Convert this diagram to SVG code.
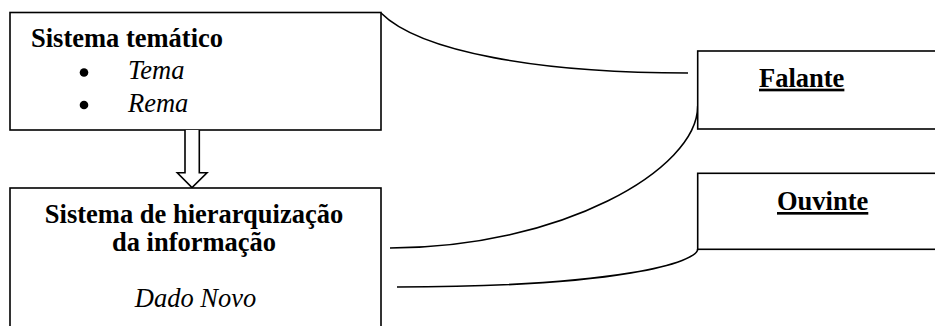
<svg xmlns="http://www.w3.org/2000/svg" width="935" height="326" viewBox="0 0 935 326">
  <style>
    .box { fill: #ffffff; stroke: #000000; stroke-width: 1.6; }
    .link { fill: none; stroke: #000000; stroke-width: 1.6; }
    .t { font-family: "Liberation Serif", "Times New Roman", serif; font-size: 26.5px; fill: #000000; }
    .b { font-weight: bold; }
    .i { font-style: italic; }
    .u { text-decoration: underline; }
    .dot { fill: #000000; }
  </style>

  <rect width="935" height="326" fill="#ffffff"/>

  <!-- curved connectors between the systems and the participants -->
  <g id="connectors">
    <path class="link" d="M381 13 C420 52 540 73 688 73"/>
    <path class="link" d="M697.7 106 C697.7 170 560 248 390 248"/>
    <path class="link" d="M697.7 249 C697.7 262 620 287 397 287"/>
  </g>

  <g id="sistema-tematico">
    <rect class="box" x="10" y="12.5" width="371" height="117.5"/>
    <text class="t b" x="31" y="47">Sistema temático</text>
    <!-- list bullets -->
    <circle class="dot" cx="84" cy="72.5" r="4.3"/>
    <text class="t i" x="128" y="79">Tema</text>
    <circle class="dot" cx="84" cy="105" r="4.3"/>
    <text class="t i" x="128" y="112">Rema</text>
  </g>

  <!-- hollow arrow from the thematic system down to the hierarchy system -->
  <g id="seta">
    <path class="link" style="fill:#ffffff" d="M185 130 L185 172.7 L177.3 172.7 L192 187.5 L207 172.7 L199.3 172.7 L199.3 130"/>
  </g>

  <g id="sistema-hierarquizacao">
    <rect class="box" x="10" y="188" width="371" height="150"/>
    <text class="t b" x="194" y="222.5" text-anchor="middle">Sistema de hierarquização</text>
    <text class="t b" x="194" y="250.5" text-anchor="middle">da informação</text>
    <text class="t i" x="195.5" y="307" text-anchor="middle">Dado Novo</text>
  </g>

  <g id="falante">
    <rect class="box" x="697.7" y="51" width="260" height="78"/>
    <text class="t b u" x="759" y="86.7">Falante</text>
  </g>

  <g id="ouvinte">
    <rect class="box" x="697.7" y="173.3" width="260" height="76"/>
    <text class="t b u" x="777" y="210">Ouvinte</text>
  </g>
</svg>
